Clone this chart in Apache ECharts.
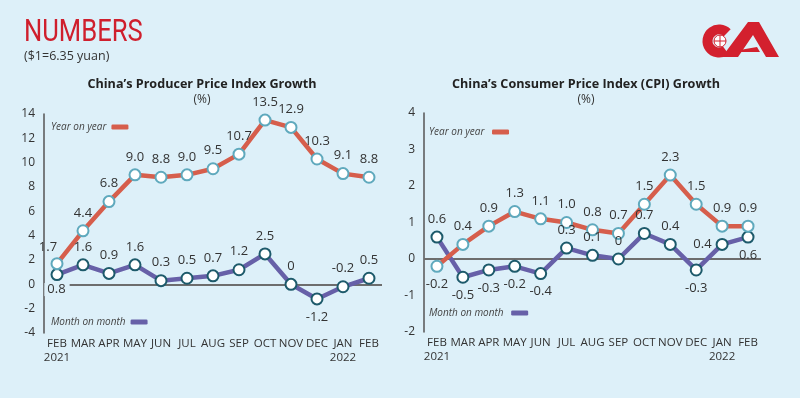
<!DOCTYPE html>
<html>
<head>
<meta charset="utf-8">
<script src="https://cdn.jsdelivr.net/npm/echarts@6/dist/echarts.min.js"></script>
<style>
  html, body { margin: 0; padding: 0; background: #ddf0f9; }
  #main { width: 800px; height: 398px; }
</style>
</head>
<body>
<div id="main"></div>
<script>
// months, Feb 2021 - Feb 2022
const months = ['FEB\n2021', 'MAR', 'APR', 'MAY', 'JUN', 'JUL', 'AUG', 'SEP', 'OCT', 'NOV', 'DEC', 'JAN\n2022', 'FEB']

// PPI (%)
const ppiYoy = [1.7, 4.4, 6.8, 9.0, 8.8, 9.0, 9.5, 10.7, 13.5, 12.9, 10.3, 9.1, 8.8]
const ppiMom = [0.8, 1.6, 0.9, 1.6, 0.3, 0.5, 0.7, 1.2, 2.5, 0, -1.2, -0.2, 0.5]

// CPI (%)
const cpiYoy = [-0.2, 0.4, 0.9, 1.3, 1.1, 1.0, 0.8, 0.7, 1.5, 2.3, 1.5, 0.9, 0.9]
const cpiMom = [0.6, -0.5, -0.3, -0.2, -0.4, 0.3, 0.1, 0, 0.7, 0.4, -0.3, 0.4, 0.6]

// axis ticks: min, max, step
const ppiTicks = [-4, 14, 2]
const cpiTicks = [-2, 4, 1]

const RED = '#d65e4c'
const PURPLE = '#6760a8'
const BG = '#ddf0f9'
const FONT = 'Open Sans'

// label placement per point (style only)
const ppiYoyPos = ['tl', 't', 't', 't', 't', 't', 't', 't', 't', 't', 't', 't', 't']
const ppiMomPos = ['bb', 't', 't', 't', 't', 't', 't', 't', 't', 't', 'b', 't', 't']
const cpiYoyPos = ['b', 't', 't', 't', 't', 't', 't', 't', 't', 't', 't', 't', 't']
const cpiMomPos = ['t', 'b', 'b', 'b', 'b', 't', 't', 't', 't', 't', 'b', 'l', 'b']

function fmt (v, fixed) {
  if (v === 0) return '0'
  return fixed ? v.toFixed(1) : String(v)
}

function points (vals, pos, fixed) {
  return vals.map((v, i) => {
    const p = pos[i]
    let label = { position: 'top' }
    if (p === 'b') label = { position: 'bottom' }
    // label sitting on the zero line gets a background so the line stops there
    if (p === 'bb') label = { position: 'bottom', distance: 2, backgroundColor: BG, padding: [0, 4, 0, 3] }
    if (p === 'l') label = { position: 'left', distance: 4 }
    if (p === 'tl') label = { position: 'top', offset: [-9, 2] }
    label.formatter = fmt(v, fixed)
    return { value: v, label: label }
  })
}

function line (name, idx, vals, pos, fixed, color, border, withZero) {
  const s = {
    name: name,
    type: 'line',
    xAxisIndex: idx,
    yAxisIndex: idx,
    data: points(vals, pos, fixed),
    color: color,
    symbol: 'circle',
    symbolSize: 11,
    lineStyle: { width: 4.5, color: color },
    itemStyle: { color: '#fff', borderColor: border, borderWidth: 2 },
    label: { show: true, fontFamily: FONT, fontSize: 13, color: '#333', distance: 5 },
    animation: false
  }
  if (withZero) {
    s.markLine = {
      silent: true,
      symbol: 'none',
      label: { show: false },
      lineStyle: { color: '#6d6d6d', width: 2, type: 'solid' },
      data: [{ yAxis: 0 }],
      z: 1
    }
  }
  return s
}

function legend (name, left, top, color) {
  return {
    data: [name],
    left: left,
    top: top,
    align: 'right',
    icon: 'roundRect',
    itemWidth: 17,
    itemHeight: 5,
    itemGap: 4,
    itemStyle: { color: color, borderWidth: 0 },
    textStyle: { fontFamily: FONT, fontStyle: 'italic', fontSize: 10, color: '#444' },
    selectedMode: false
  }
}

function xAxis (idx) {
  return {
    type: 'category',
    gridIndex: idx,
    data: months,
    axisLine: { show: false },
    axisTick: { show: false },
    axisLabel: { fontFamily: FONT, fontSize: 11.5, color: '#333', margin: 4, lineHeight: 14, interval: 0 }
  }
}

function yAxis (idx, t) {
  return {
    type: 'value',
    gridIndex: idx,
    min: t[0],
    max: t[1],
    interval: t[2],
    axisLine: { show: true, lineStyle: { color: '#555', width: 1.5 } },
    axisTick: { show: false },
    splitLine: { show: false },
    axisLabel: { fontFamily: FONT, fontSize: 12, color: '#333', margin: 9 }
  }
}

const chart = echarts.init(document.getElementById('main'))
chart.setOption({
  backgroundColor: BG,
  animation: false,
  grid: [
    { left: 44, right: 418, top: 114, bottom: 65 },
    { left: 424, right: 39, top: 113, bottom: 66 }
  ],
  xAxis: [xAxis(0), xAxis(1)],
  yAxis: [yAxis(0, ppiTicks), yAxis(1, cpiTicks)],
  legend: [
    legend('Year on year', 46, 117, RED),
    legend('Month on month', 46, 312, PURPLE),
    legend('Year on year ', 424, 122, RED),
    legend('Month on month ', 424, 303, PURPLE)
  ],
  series: [
    line('Month on month', 0, ppiMom, ppiMomPos, false, PURPLE, '#1d5a6b', true),
    line('Year on year', 0, ppiYoy, ppiYoyPos, true, RED, '#5fa9bd', false),
    line('Month on month ', 1, cpiMom, cpiMomPos, false, PURPLE, '#1d5a6b', true),
    line('Year on year ', 1, cpiYoy, cpiYoyPos, true, RED, '#5fa9bd', false)
  ],
  graphic: [
    { type: 'text', x: 24, y: 17, scaleX: 0.8, style: { text: 'NUMBERS', fontFamily: 'Roboto', fontSize: 32, fill: '#cf1f2d' } },
    { type: 'text', left: 24, top: 50, style: { text: '($1=6.35 yuan)', fontFamily: FONT, fontSize: 12.5, fill: '#333' } },
    { type: 'text', x: 202, y: 78, style: { text: 'China\u2019s Producer Price Index Growth', fontFamily: FONT, fontWeight: 'bold', fontSize: 12.6, fill: '#222', align: 'center' } },
    { type: 'text', x: 202, y: 94, style: { text: '(%)', fontFamily: FONT, fontSize: 12, fill: '#333', align: 'center' } },
    { type: 'text', x: 586, y: 78, style: { text: 'China\u2019s Consumer Price Index (CPI) Growth', fontFamily: FONT, fontWeight: 'bold', fontSize: 12.6, fill: '#222', align: 'center' } },
    { type: 'text', x: 586, y: 94, style: { text: '(%)', fontFamily: FONT, fontSize: 12, fill: '#333', align: 'center' } },
    // logo
    { type: 'arc', shape: { cx: 719, cy: 41, r: 11.5, startAngle: Math.PI * 0.3, endAngle: Math.PI * 1.75, clockwise: true }, style: { stroke: '#d3202e', lineWidth: 10, fill: 'none' } },
    { type: 'circle', shape: { cx: 720, cy: 41, r: 6 }, style: { fill: '#fff', stroke: '#d3202e', lineWidth: 1 } },
    { type: 'line', shape: { x1: 714, y1: 41, x2: 726, y2: 41 }, style: { stroke: '#d3202e', lineWidth: 1 } },
    { type: 'line', shape: { x1: 720, y1: 35, x2: 720, y2: 47 }, style: { stroke: '#d3202e', lineWidth: 1 } },
    { type: 'polygon', shape: { points: [[722, 57], [748, 22], [759, 22], [779, 57], [766, 57], [753, 35], [738, 57]] }, style: { fill: '#d3202e' } },
    { type: 'polygon', shape: { points: [[728, 52], [757, 47], [760, 52]] }, style: { fill: '#d3202e' } }
  ]
})
</script>
</body>
</html>
